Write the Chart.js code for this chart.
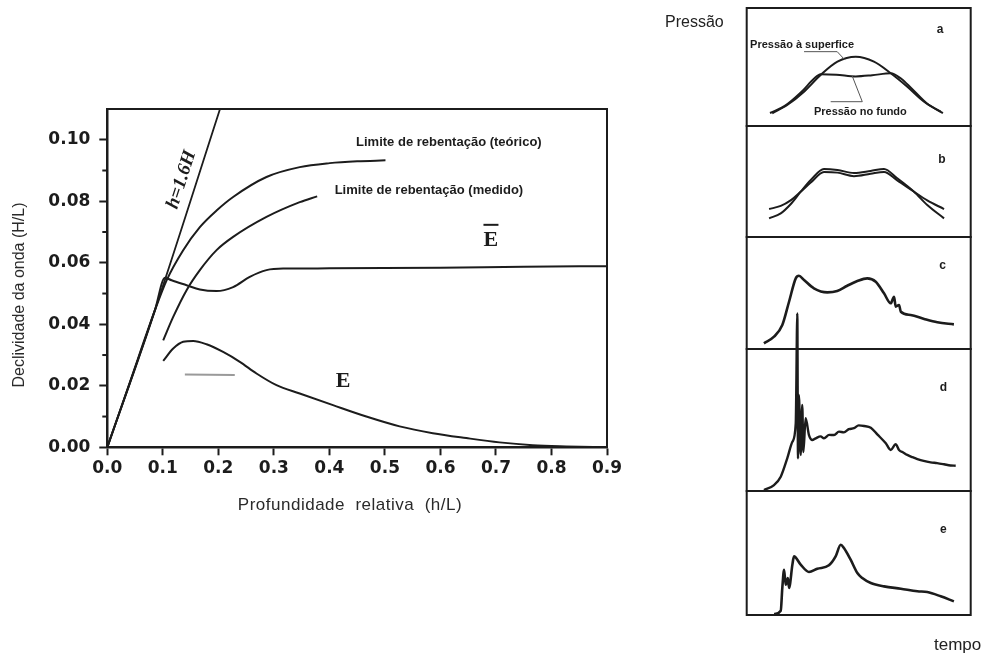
<!DOCTYPE html>
<html>
<head>
<meta charset="utf-8">
<script src="https://cdn.jsdelivr.net/npm/chart.js@4.4.1/dist/chart.umd.min.js"></script>
<style>
  html, body { margin: 0; padding: 0; background: #fff; width: 984px; height: 657px; overflow: hidden; }
  #main { position: absolute; left: 0; top: 0; }
  #side { position: absolute; left: 700px; top: 0; }
  .cap { position: absolute; font-family: "Liberation Sans", Arial, sans-serif; color: #222; line-height: 20px; }
</style>
</head>
<body>
<canvas id="main" width="660" height="540"></canvas>
<canvas id="side" width="284" height="657"></canvas>
<div class="cap" style="left:665px; top:12px; font-size:16px;">Pressão</div>
<div class="cap" style="left:934px; top:635px; font-size:17px;">tempo</div>

<script>
// ---------- Wave steepness (H/L) against relative depth (h/L) ----------
const xTicks = [0, 0.1, 0.2, 0.3, 0.4, 0.5, 0.6, 0.7, 0.8, 0.9];
const yTicks = [0, 0.02, 0.04, 0.06, 0.08, 0.10];
const yMinorTicks = [0.01, 0.03, 0.05, 0.07, 0.09];

// h = 1.6H limit
const depthLimit16H = [0, 0.0858, 0.203];
const steepLimit16H = [0, 0.0446, 0.11];

// theoretical breaking limit
const depthTheory = [0, 0.04, 0.0858, 0.1068, 0.1367, 0.1667, 0.1968, 0.2266, 0.2867, 0.3466, 0.4005, 0.45, 0.501];
const steepTheory = [0, 0.0208, 0.0446, 0.0543, 0.0641, 0.0716, 0.0770, 0.0814, 0.0879, 0.0911, 0.0924, 0.0930, 0.0933];

// measured breaking limit
const depthMeasured = [0.1007, 0.1187, 0.1428, 0.1667, 0.1968, 0.2266, 0.2867, 0.3466, 0.378];
const steepMeasured = [0.0348, 0.0424, 0.0511, 0.0576, 0.0641, 0.0684, 0.0749, 0.0797, 0.0816];

// mean curve (E bar)
const depthEbar = [0, 0.0858, 0.1038, 0.1158, 0.1428, 0.1667, 0.1968, 0.2266, 0.2566, 0.2867, 0.3166, 0.3466, 0.40, 0.60, 0.75, 0.90];
const steepEbar = [0, 0.0446, 0.0551, 0.0543, 0.0527, 0.0513, 0.0508, 0.0521, 0.0554, 0.0576, 0.0581, 0.0581, 0.0582, 0.0584, 0.0587, 0.0589];

// E curve
const depthE = [0.1007, 0.1187, 0.1367, 0.1547, 0.1788, 0.2086, 0.2387, 0.2687, 0.3047, 0.3466, 0.4065, 0.4665, 0.5265, 0.5863, 0.6464, 0.7063, 0.7662, 0.8263, 0.90];
const steepE = [0.0281, 0.0321, 0.0343, 0.0346, 0.0335, 0.0310, 0.0278, 0.0240, 0.0202, 0.0175, 0.0137, 0.0100, 0.0068, 0.0046, 0.0030, 0.0016, 0.0007, 0.0003, 0.0];

// short grey segment
const depthGrey = [0.1397, 0.2296];
const steepGrey = [0.0237, 0.0235];

// ---------- Pressure traces against time, panels a to e ----------
const panelKeys = ['a', 'b', 'c', 'd', 'e'];

const timeSurfA = [0.114, 0.181, 0.256, 0.330, 0.405, 0.487, 0.568, 0.643, 0.717, 0.792, 0.866];
const presSurfA = [0.108, 0.178, 0.291, 0.432, 0.545, 0.587, 0.545, 0.447, 0.333, 0.206, 0.121];
const timeBotA  = [0.104, 0.170, 0.245, 0.300, 0.330, 0.400, 0.487, 0.560, 0.643, 0.690, 0.735, 0.805, 0.876];
const presBotA  = [0.110, 0.170, 0.290, 0.400, 0.438, 0.435, 0.420, 0.430, 0.447, 0.400, 0.320, 0.190, 0.110];

const timeB  = [0.100, 0.152, 0.196, 0.241, 0.286, 0.345, 0.405, 0.479, 0.553, 0.613, 0.672, 0.747, 0.806, 0.881];
const presB1 = [0.168, 0.213, 0.295, 0.408, 0.514, 0.613, 0.604, 0.577, 0.595, 0.613, 0.529, 0.408, 0.288, 0.168];
const presB2 = [0.252, 0.280, 0.330, 0.408, 0.490, 0.586, 0.580, 0.548, 0.570, 0.586, 0.510, 0.408, 0.330, 0.252];

const timeC = [0.077, 0.122, 0.159, 0.189, 0.219, 0.233, 0.256, 0.300, 0.360, 0.404, 0.449, 0.494, 0.538, 0.576, 0.613, 0.643, 0.658, 0.665, 0.680, 0.688, 0.732, 0.792, 0.851, 0.925];
const presC = [0.051, 0.110, 0.214, 0.422, 0.631, 0.654, 0.616, 0.542, 0.506, 0.518, 0.565, 0.607, 0.631, 0.601, 0.497, 0.408, 0.467, 0.378, 0.393, 0.333, 0.304, 0.268, 0.238, 0.220];

const timeD = [0.077, 0.122, 0.152, 0.181, 0.204, 0.219, 0.226, 0.229, 0.233, 0.241, 0.248, 0.253, 0.263, 0.278, 0.293, 0.308, 0.330, 0.345, 0.368, 0.390, 0.412, 0.434, 0.456, 0.479, 0.500, 0.524, 0.554, 0.583, 0.621, 0.643, 0.665, 0.680, 0.700, 0.717, 0.740, 0.762, 0.790, 0.821, 0.850, 0.881, 0.910, 0.933];
const presD = [0.007, 0.042, 0.101, 0.230, 0.347, 0.477, 1.251, 0.230, 0.676, 0.254, 0.606, 0.275, 0.512, 0.394, 0.359, 0.371, 0.385, 0.371, 0.395, 0.394, 0.418, 0.413, 0.435, 0.442, 0.462, 0.458, 0.446, 0.399, 0.336, 0.289, 0.329, 0.289, 0.270, 0.254, 0.238, 0.225, 0.212, 0.202, 0.196, 0.188, 0.180, 0.178];

const timeE = [0.122, 0.152, 0.159, 0.167, 0.174, 0.184, 0.189, 0.204, 0.211, 0.241, 0.278, 0.315, 0.367, 0.397, 0.420, 0.434, 0.464, 0.494, 0.516, 0.554, 0.613, 0.688, 0.762, 0.806, 0.866, 0.925];
const presE = [0.008, 0.035, 0.218, 0.365, 0.244, 0.298, 0.218, 0.406, 0.473, 0.406, 0.347, 0.373, 0.401, 0.473, 0.567, 0.540, 0.446, 0.339, 0.298, 0.258, 0.231, 0.212, 0.191, 0.185, 0.151, 0.110];

const pts = (xs, ys) => xs.map((x, i) => ({ x, y: ys[i] }));
const INK = '#1c1c1c';

// ---------- main chart ----------
const mainDecor = {
  id: 'mainDecor',
  afterDraw(chart) {
    const { ctx, chartArea: a, scales: { x, y } } = chart;
    ctx.save();
    // top and right edges of the frame
    ctx.strokeStyle = INK;
    ctx.lineWidth = 2;
    ctx.beginPath();
    ctx.moveTo(a.left, a.top); ctx.lineTo(a.right, a.top); ctx.lineTo(a.right, a.bottom);
    ctx.stroke();
    // minor ticks on the steepness axis
    yMinorTicks.forEach(v => {
      const py = y.getPixelForValue(v);
      ctx.beginPath(); ctx.moveTo(a.left - 5, py); ctx.lineTo(a.left, py); ctx.stroke();
    });
    // curve labels
    ctx.fillStyle = INK;
    ctx.textBaseline = 'middle';
    ctx.textAlign = 'left';
    ctx.font = 'bold 13px "Liberation Sans", Arial, sans-serif';
    ctx.fillText('Limite de rebentação (teórico)', x.getPixelForValue(0.448), y.getPixelForValue(0.099));
    ctx.fillText('Limite de rebentação (medido)', x.getPixelForValue(0.4095), y.getPixelForValue(0.0835));

    ctx.textAlign = 'center';
    ctx.font = 'bold 22px "Liberation Serif", "DejaVu Serif", serif';
    const ex = x.getPixelForValue(0.691), ey = y.getPixelForValue(0.0673);
    ctx.fillText('E', ex, ey);
    ctx.lineWidth = 2;
    ctx.beginPath(); ctx.moveTo(ex - 7.5, ey - 15.5); ctx.lineTo(ex + 7.5, ey - 15.5); ctx.stroke();
    ctx.fillText('E', x.getPixelForValue(0.4245), y.getPixelForValue(0.0213));

    // h = 1.6H label, set along its line
    ctx.save();
    ctx.translate(x.getPixelForValue(0.134), y.getPixelForValue(0.087));
    ctx.rotate(-72 * Math.PI / 180);
    ctx.font = 'italic bold 19px "Liberation Serif", "DejaVu Serif", serif';
    ctx.fillText('h=1.6H', 0, 0);
    ctx.restore();

    // axis titles
    ctx.fillStyle = '#2a2a2a';
    ctx.font = '17px "Liberation Sans", Arial, sans-serif';
    if ('letterSpacing' in ctx) ctx.letterSpacing = '0.5px';
    ctx.fillText('Profundidade  relativa  (h/L)', 350, 505);
    if ('letterSpacing' in ctx) ctx.letterSpacing = '0px';
    ctx.save();
    ctx.translate(20, 295);
    ctx.rotate(-Math.PI / 2);
    ctx.font = '16px "Liberation Sans", Arial, sans-serif';
    ctx.fillText('Declividade da onda (H/L)', 0, 0);
    ctx.restore();
    ctx.restore();
  }
};

const tickFont = { family: '"DejaVu Sans", sans-serif', weight: 'bold', size: 17 };

new Chart(document.getElementById('main'), {
  type: 'line',
  data: {
    datasets: [
      { data: pts(depthLimit16H, steepLimit16H), tension: 0, borderWidth: 1.8 },
      { data: pts(depthTheory, steepTheory) },
      { data: pts(depthMeasured, steepMeasured) },
      { data: pts(depthEbar, steepEbar) },
      { data: pts(depthE, steepE) },
      { data: pts(depthGrey, steepGrey), borderColor: '#9a9a9a', borderWidth: 2, tension: 0 }
    ]
  },
  options: {
    responsive: false,
    animation: false,
    devicePixelRatio: 1,
    layout: { padding: { left: 0, top: 109, right: 53, bottom: 0 } },
    plugins: { legend: { display: false }, tooltip: { enabled: false } },
    elements: {
      point: { radius: 0 },
      line: { borderColor: INK, borderWidth: 2, cubicInterpolationMode: 'monotone', fill: false }
    },
    scales: {
      x: {
        type: 'linear', min: 0, max: 0.9,
        afterFit: s => { s.height = 92.7; },
        afterBuildTicks: s => { s.ticks = xTicks.map(v => ({ value: v })); },
        ticks: { callback: v => v.toFixed(1), font: tickFont, color: INK, padding: 3, maxRotation: 0, autoSkip: false },
        grid: { drawOnChartArea: false, tickLength: 8, tickWidth: 2, tickColor: INK },
        border: { color: INK, width: 2.5 }
      },
      y: {
        type: 'linear', min: 0, max: 0.11,
        afterFit: s => { s.width = 107.3; },
        afterBuildTicks: s => { s.ticks = yTicks.map(v => ({ value: v })); },
        ticks: { callback: v => v.toFixed(2), font: tickFont, color: INK, padding: 9, autoSkip: false },
        grid: { drawOnChartArea: false, tickLength: 8, tickWidth: 2, tickColor: INK },
        border: { color: INK, width: 2.5 }
      }
    }
  },
  plugins: [mainDecor]
});

// ---------- pressure panels ----------
const panelSpans = { a: 118, b: 111, c: 112, d: 142, e: 124 };
const letterSpots = { a: [0.863, 0.814], b: [0.871, 0.694], c: [0.875, 0.744], d: [0.878, 0.730], e: [0.878, 0.688] };

const sideDecor = {
  id: 'sideDecor',
  afterDraw(chart) {
    const { ctx, scales } = chart;
    const x = scales.x;
    ctx.save();
    ctx.strokeStyle = INK;
    ctx.lineWidth = 2;
    panelKeys.forEach(k => {
      const s = scales['y' + k];
      ctx.strokeRect(x.left, s.top, x.right - x.left, s.bottom - s.top);
    });
    ctx.fillStyle = INK;
    ctx.textAlign = 'center';
    ctx.textBaseline = 'middle';
    ctx.font = 'bold 12px "Liberation Sans", Arial, sans-serif';
    panelKeys.forEach(k => {
      const [fx, fy] = letterSpots[k];
      ctx.fillText(k, x.getPixelForValue(fx), scales['y' + k].getPixelForValue(fy));
    });
    // callouts in panel a
    const ya = scales.ya;
    const P = (fx, fy) => [x.getPixelForValue(fx), ya.getPixelForValue(fy)];
    ctx.textAlign = 'left';
    ctx.font = 'bold 11px "Liberation Sans", Arial, sans-serif';
    ctx.fillText('Pressão à superfice', ...P(0.015, 0.686));
    ctx.fillText('Pressão no fundo', ...P(0.300, 0.116));
    ctx.strokeStyle = '#555';
    ctx.lineWidth = 1;
    ctx.beginPath();
    ctx.moveTo(...P(0.256, 0.630)); ctx.lineTo(...P(0.404, 0.630)); ctx.lineTo(...P(0.439, 0.559));
    ctx.moveTo(...P(0.471, 0.424)); ctx.lineTo(...P(0.516, 0.206)); ctx.lineTo(...P(0.375, 0.206));
    ctx.stroke();
    ctx.restore();
  }
};

const yPanel = (k, weight) => ({
  type: 'linear', position: 'left', stack: 'panels', stackWeight: panelSpans[k], weight,
  min: 0, max: 1, display: false
});

new Chart(document.getElementById('side'), {
  type: 'line',
  data: {
    datasets: [
      { data: pts(timeSurfA, presSurfA), yAxisID: 'ya' },
      { data: pts(timeBotA, presBotA), yAxisID: 'ya' },
      { data: pts(timeB, presB1), yAxisID: 'yb' },
      { data: pts(timeB, presB2), yAxisID: 'yb' },
      { data: pts(timeC, presC), yAxisID: 'yc', borderWidth: 2.6 },
      // the impact spike rises past the top of its own panel
      { data: pts(timeD, presD), yAxisID: 'yd', borderWidth: 2.4, clip: false },
      { data: pts(timeE, presE), yAxisID: 'ye', borderWidth: 2.6 }
    ]
  },
  options: {
    responsive: false,
    animation: false,
    devicePixelRatio: 1,
    layout: { padding: { left: 46.7, top: 8, right: 13.3, bottom: 42 } },
    plugins: { legend: { display: false }, tooltip: { enabled: false } },
    elements: {
      point: { radius: 0 },
      line: { borderColor: INK, borderWidth: 2, cubicInterpolationMode: 'monotone', fill: false }
    },
    scales: {
      x: { type: 'linear', min: 0, max: 1, display: false },
      ya: yPanel('a', 5),
      yb: yPanel('b', 4),
      yc: yPanel('c', 3),
      yd: yPanel('d', 2),
      ye: yPanel('e', 1)
    }
  },
  plugins: [sideDecor]
});
</script>
</body>
</html>
